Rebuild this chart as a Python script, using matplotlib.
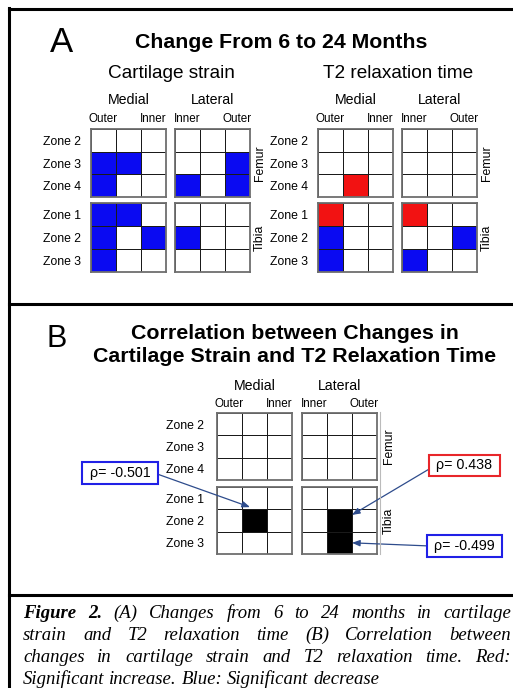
import numpy as np
import matplotlib
matplotlib.use("Agg")
import matplotlib.pyplot as plt
from matplotlib.colors import ListedColormap
from matplotlib.lines import Line2D

plt.rcParams['font.family'] = ['Liberation Sans', 'DejaVu Sans']

W, H = 513, 688

# ---- data ----
zones_femur = ["Zone 2", "Zone 3", "Zone 4"]
zones_tibia = ["Zone 1", "Zone 2", "Zone 3"]
medial_cols = ["Outer", "Inner"]
lateral_cols = ["Inner", "Outer"]

# -1 = significant decrease, 1 = significant increase
strain_medial_femur = [[0, 0, 0], [-1, -1, 0], [-1, 0, 0]]
strain_lateral_femur = [[0, 0, 0], [0, 0, -1], [-1, 0, -1]]
strain_medial_tibia = [[-1, -1, 0], [-1, 0, -1], [-1, 0, 0]]
strain_lateral_tibia = [[0, 0, 0], [-1, 0, 0], [0, 0, 0]]

t2_medial_femur = [[0, 0, 0], [0, 0, 0], [0, 1, 0]]
t2_lateral_femur = [[0, 0, 0], [0, 0, 0], [0, 0, 0]]
t2_medial_tibia = [[1, 0, 0], [-1, 0, 0], [-1, 0, 0]]
t2_lateral_tibia = [[1, 0, 0], [0, 0, -1], [-1, 0, 0]]

# 1 = significant correlation
corr_medial_femur = [[0, 0, 0], [0, 0, 0], [0, 0, 0]]
corr_lateral_femur = [[0, 0, 0], [0, 0, 0], [0, 0, 0]]
corr_medial_tibia = [[0, 0, 0], [0, 1, 0], [0, 0, 0]]
corr_lateral_tibia = [[0, 0, 0], [0, 1, 0], [0, 1, 0]]

rho_values = [-0.501, 0.438, -0.499]
rho_blocks = ["medial", "lateral", "lateral"]
rho_cells = [(1, 1), (1, 1), (2, 1)]  # (row, col) in tibia block

caption_lines = [
    [("Figure 2.", "bold"), ("(A) Changes from 6 to 24 months in cartilage", "normal")],
    [("strain and T2 relaxation time (B) Correlation between", "normal")],
    [("changes in cartilage strain and T2 relaxation time. Red:", "normal")],
    [("Significant increase. Blue: Significant decrease", "normal")],
]

sig_cmap = ListedColormap(['#0A0AF2', 'white', '#F21212'])
corr_cmap = ListedColormap(['white', 'black'])

fig = plt.figure(figsize=(W / 100, H / 100), dpi=100)


def px_axes(x0, y0, x1, y1):
    return fig.add_axes([x0 / W, 1 - y1 / H, (x1 - x0) / W, (y1 - y0) / H])


def px_line(xs, ys, lw=2.2, color='black'):
    fig.add_artist(Line2D([x / W for x in xs], [1 - y / H for y in ys],
                          transform=fig.transFigure, lw=lw, color=color))


def block(box, values, cmap, vmin, vmax):
    ax = px_axes(*box)
    ax.pcolormesh(np.array(values), cmap=cmap, vmin=vmin, vmax=vmax,
                  edgecolors='#1a1a1a', linewidth=0.6)
    ax.set_xlim(0, 3)
    ax.set_ylim(3, 0)
    ax.set_xticks([])
    ax.set_yticks([])
    for s in ax.spines.values():
        s.set_color('#6e6e6e')
        s.set_linewidth(1.3)
    return ax


def panel(xm, xl, yf, yt, data, cmap, vmin, vmax, head_off, col_pad, zone_pad, side_pad):
    axes = {}
    for part, ys in (("femur", yf), ("tibia", yt)):
        for side, xs in (("medial", xm), ("lateral", xl)):
            ax = block((xs[0], ys[0], xs[1], ys[1]), data[side + "_" + part], cmap, vmin, vmax)
            axes[side + "_" + part] = ax
            if side == "medial":
                ax.set_yticks([0.5, 1.5, 2.5])
                ax.set_yticklabels(zones_femur if part == "femur" else zones_tibia, fontsize=8.8)
                ax.tick_params(axis='y', length=0, pad=zone_pad)
            else:
                ax.yaxis.set_label_position('right')
                ax.set_ylabel("Femur" if part == "femur" else "Tibia", fontsize=8.8, labelpad=side_pad)
            if part == "femur":
                ax.xaxis.tick_top()
                ax.set_xticks([0.5, 2.5])
                ax.set_xticklabels(medial_cols if side == "medial" else lateral_cols, fontsize=8.4)
                ax.tick_params(axis='x', length=0, pad=col_pad)
                ax.annotate("Medial" if side == "medial" else "Lateral", xy=(0.5, 1),
                            xycoords='axes fraction', xytext=(0, head_off),
                            textcoords='offset pixels', ha='center', va='center', fontsize=10.2)
    return axes


# ---- frame ----
px_line([9, 513], [9, 9])
px_line([9, 9], [8, 688])
px_line([9, 513], [304, 304])
px_line([9, 513], [595, 595])

# ---- panel A ----
fig.text(62 / W, 1 - 42 / H, "A", fontsize=25, ha='center', va='center')
fig.text(281 / W, 1 - 43 / H, "Change From 6 to 24 Months", fontsize=15.3,
         fontweight='bold', ha='center', va='center')
fig.text(171 / W, 1 - 74 / H, "Cartilage strain", fontsize=13.7, ha='center', va='center')
fig.text(398 / W, 1 - 74 / H, "T2 relaxation time", fontsize=13.7, ha='center', va='center')

strain = dict(medial_femur=strain_medial_femur, lateral_femur=strain_lateral_femur,
              medial_tibia=strain_medial_tibia, lateral_tibia=strain_lateral_tibia)
t2 = dict(medial_femur=t2_medial_femur, lateral_femur=t2_lateral_femur,
          medial_tibia=t2_medial_tibia, lateral_tibia=t2_lateral_tibia)

panel((91, 166), (175, 250), (129, 197), (203, 272), strain, sig_cmap, -1, 1,
      head_off=29, col_pad=3, zone_pad=7, side_pad=3)
panel((318, 393), (402, 477), (129, 197), (203, 272), t2, sig_cmap, -1, 1,
      head_off=29, col_pad=3, zone_pad=7, side_pad=3)

# ---- panel B ----
fig.text(57 / W, 1 - 339 / H, "B", fontsize=22, ha='center', va='center')
fig.text(295 / W, 1 - 345 / H, "Correlation between Changes in\nCartilage Strain and T2 Relaxation Time",
         fontsize=15.4, fontweight='bold', ha='center', va='center', linespacing=1.22)

corr = dict(medial_femur=corr_medial_femur, lateral_femur=corr_lateral_femur,
            medial_tibia=corr_medial_tibia, lateral_tibia=corr_lateral_tibia)
axb = panel((217, 292), (302, 377), (413, 480), (487, 554), corr, corr_cmap, 0, 1,
            head_off=27, col_pad=2, zone_pad=9, side_pad=4)
px_line([380, 380], [412, 554], lw=0.8, color='#bbbbbb')

box_centers = [(120, 473), (464.5, 465.5), (464.5, 546)]
tip_offsets = [(0.32, -0.1), (1.0, 0.25), (1.0, 0.5)]
rel_pos = [(1, 0.5), (0, 0.39), (0, 0.5)]
for val, side, cell, c, off, rp in zip(rho_values, rho_blocks, rho_cells, box_centers, tip_offsets, rel_pos):
    ax = axb[side + "_tibia"]
    edge = '#E8262A' if val > 0 else '#2020E6'
    ax.annotate(" \u03c1= %.3f " % val,
                xy=(cell[1] + off[0], cell[0] + off[1]), xycoords='data',
                xytext=(c[0], H - c[1]), textcoords='figure pixels',
                ha='center', va='center', fontsize=10.3, annotation_clip=False,
                bbox=dict(boxstyle='square,pad=0.25', fc='white', ec=edge, lw=1.5),
                arrowprops=dict(arrowstyle='-|>,head_length=0.45,head_width=0.18',
                                color='#2E4C8C', lw=0.9, shrinkA=0, shrinkB=0, relpos=rp))

# ---- caption (justified) ----
renderer = fig.canvas.get_renderer()
x_left, x_right = 23, 511
baselines = [618, 640, 662, 684]
cap_size = 13.5
for i, (line, yb) in enumerate(zip(caption_lines, baselines)):
    words = []
    for chunk, weight in line:
        for w in chunk.split(" "):
            words.append((w, weight))
    texts = []
    total = 0
    for w, weight in words:
        t = fig.text(0, 1 - yb / H, w, fontsize=cap_size, family='Liberation Serif',
                     style='italic', fontweight=weight, va='baseline', ha='left')
        wpx = t.get_window_extent(renderer).width
        texts.append((t, wpx))
        total += wpx
    if i < len(caption_lines) - 1:
        gap = (x_right - x_left - total) / (len(words) - 1)
    else:
        gap = cap_size * 100 / 72 * 0.25
    x = x_left
    for t, wpx in texts:
        t.set_x(x / W)
        x += wpx + gap

fig.savefig("out.png", dpi=100)
